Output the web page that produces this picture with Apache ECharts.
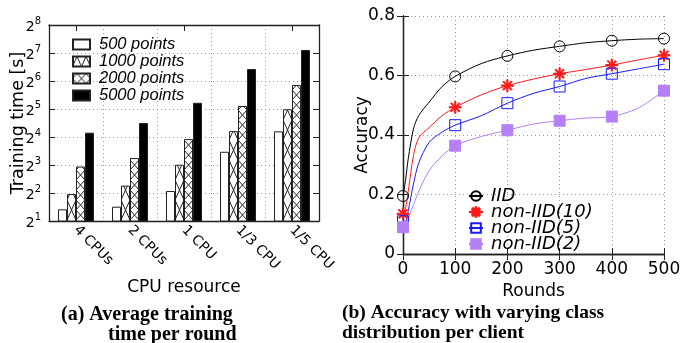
<!DOCTYPE html>
<html>
<head>
<meta charset="utf-8">
<script src="https://cdn.jsdelivr.net/npm/echarts@6/dist/echarts.min.js"></script>
<style>
html,body{margin:0;padding:0;background:#fff;}
#c{width:685px;height:343px;}
</style>
</head>
<body>
<div id="c"></div>
<script>
// ---------- data: (a) training time ----------
const categories = ['4 CPUs', '2 CPUs', '1 CPU', '1/3 CPU', '1/5 CPU'];
const barNames = ['500 points', '1000 points', '2000 points', '5000 points'];
const t500  = [2.67, 2.85, 4.2, 11.1, 18.4];
const t1000 = [3.9, 4.8, 8.05, 18.5, 31.8];
const t2000 = [7.7, 9.5, 15.2, 34.5, 58];
const t5000 = [17.8, 22.6, 37.3, 86, 138];
const timeTicks = [2, 4, 8, 16, 32, 64, 128, 256];

// ---------- data: (b) accuracy ----------
const lineNames = ['IID', 'non-IID(10)', 'non-IID(5)', 'non-IID(2)'];
const rounds = [0, 5, 10, 20, 30, 50, 75, 100, 150, 200, 250, 300, 350, 400, 450, 500];
const iidAcc = [0.195, 0.25, 0.32, 0.42, 0.465, 0.51, 0.563, 0.597, 0.64, 0.666, 0.685, 0.698, 0.71, 0.717, 0.722, 0.724];
const n10Acc = [0.135, 0.155, 0.21, 0.33, 0.39, 0.425, 0.465, 0.493, 0.535, 0.566, 0.588, 0.606, 0.62, 0.635, 0.652, 0.668];
const n5Acc  = [0.11, 0.11, 0.145, 0.235, 0.305, 0.375, 0.41, 0.433, 0.465, 0.507, 0.54, 0.563, 0.59, 0.606, 0.622, 0.638];
const n2Acc  = [0.09, 0.098, 0.12, 0.165, 0.21, 0.28, 0.33, 0.364, 0.395, 0.416, 0.437, 0.448, 0.457, 0.462, 0.49, 0.549];

// ---------- patterns ----------
function crossPattern(w, h) {
  const c = document.createElement('canvas');
  c.width = w; c.height = h;
  const g = c.getContext('2d');
  g.fillStyle = '#fff'; g.fillRect(0, 0, w, h);
  g.strokeStyle = '#222'; g.lineWidth = 1;
  for (let k = -1; k <= 1; k++) {
    g.beginPath(); g.moveTo(k * w, 0); g.lineTo(k * w + w, h); g.stroke();
    g.beginPath(); g.moveTo(k * w + w, 0); g.lineTo(k * w, h); g.stroke();
  }
  return c;
}
const pat1000 = {image: crossPattern(9, 20), repeat: 'repeat', x: 4, y: 0};
const pat2000 = {image: crossPattern(9, 10), repeat: 'repeat', x: 4, y: 0};
const barFills = ['#fff', pat1000, pat2000, '#000'];
const barValues = [t500, t1000, t2000, t5000];

const FONT = 'DejaVu Sans';
const asterisk = 'path://M-10,-1L10,-1L10,1L-10,1Z M-1,-10L1,-10L1,10L-1,10Z M-7.78,-6.36L6.36,7.78L7.78,6.36L-6.36,-7.78Z M-7.78,6.36L6.36,-7.78L7.78,-6.36L-6.36,7.78Z';

function mkLine(name, acc, color, symbol, fill, size) {
  return {
    name: name, type: 'line', xAxisIndex: 2, yAxisIndex: 2,
    smooth: 0.3, showAllSymbol: true,
    symbol: symbol, symbolSize: size,
    lineStyle: {color: color, width: 1},
    itemStyle: {color: fill, borderColor: color, borderWidth: 1},
    data: rounds.map((r, i) => (r % 100 === 0) ? {value: [r, acc[i]]} : {value: [r, acc[i]], symbol: 'none'}),
    z: 3
  };
}

const gridLine = {show: true, lineStyle: {color: '#999', type: [1, 3], width: 1}};
const axLine = {show: true, lineStyle: {color: '#222', width: 1.3}};

const option = {
  animation: false,
  backgroundColor: '#fff',
  grid: [
    {left: 49, top: 25, width: 270, height: 196},
    {left: 403, top: 16, width: 261, height: 238}
  ],
  legend: [
    {
      data: barNames, orient: 'vertical', left: 67, top: 31,
      itemWidth: 17, itemHeight: 10, itemGap: 0, icon: 'rect',
      textStyle: {fontFamily: 'Liberation Sans', fontStyle: 'italic', fontSize: 16.5, color: '#000', lineHeight: 17, padding: [0, 0, 0, 4]}
    },
    {
      data: lineNames, orient: 'vertical', left: 463, top: 182,
      itemWidth: 14, itemHeight: 12, itemGap: -2,
      textStyle: {fontFamily: FONT, fontStyle: 'italic', fontSize: 18, color: '#000', lineHeight: 16, padding: [0, 0, 0, 3]}
    }
  ],
  xAxis: [
    {
      gridIndex: 0, type: 'category', data: categories, position: 'bottom',
      axisLine: axLine, axisTick: {show: false},
      axisLabel: {rotate: -45, fontFamily: FONT, fontSize: 14, color: '#000', margin: 7},
      splitLine: gridLine,
      name: 'CPU resource', nameLocation: 'middle', nameGap: 56,
      nameTextStyle: {fontFamily: FONT, fontSize: 17, color: '#000'}
    },
    {
      gridIndex: 0, type: 'category', data: categories, position: 'top',
      axisLine: axLine, axisTick: {show: true, inside: true, length: 6, alignWithLabel: true, lineStyle: {color: '#222'}},
      axisLabel: {show: false}, splitLine: {show: false}
    },
    {
      gridIndex: 1, type: 'value', min: 0, max: 500, interval: 100, position: 'bottom',
      axisLine: axLine, axisTick: {show: true, inside: true, length: 6, lineStyle: {color: '#222'}},
      axisLabel: {fontFamily: FONT, fontSize: 17, color: '#000', margin: 7},
      splitLine: gridLine,
      name: 'Rounds', nameLocation: 'middle', nameGap: 26,
      nameTextStyle: {fontFamily: FONT, fontSize: 17, color: '#000'}
    },
    {
      gridIndex: 1, type: 'value', min: 0, max: 500, interval: 100, position: 'top',
      axisLine: axLine, axisTick: {show: true, inside: true, length: 6, lineStyle: {color: '#222'}},
      axisLabel: {show: false}, splitLine: {show: false}
    }
  ],
  yAxis: [
    {
      gridIndex: 0, type: 'log', logBase: 2, min: timeTicks[0], max: timeTicks[timeTicks.length - 1],
      splitNumber: 7, position: 'left',
      axisLine: axLine, axisTick: {show: true, inside: true, length: 6, lineStyle: {color: '#222'}},
      axisLabel: {
        margin: 8,
        formatter: v => '{b|2}{s|' + Math.round(Math.log2(v)) + '}',
        rich: {
          b: {fontFamily: FONT, fontSize: 14, color: '#000', lineHeight: 18, verticalAlign: 'bottom'},
          s: {fontFamily: FONT, fontSize: 10, color: '#000', lineHeight: 18, verticalAlign: 'top'}
        }
      },
      splitLine: gridLine,
      name: 'Training time [s]', nameLocation: 'middle', nameGap: 22, nameMoveOverlap: false,
      nameTextStyle: {fontFamily: FONT, fontSize: 17.5, color: '#000'}
    },
    {
      gridIndex: 0, type: 'log', logBase: 2, min: timeTicks[0], max: timeTicks[timeTicks.length - 1],
      splitNumber: 7, position: 'right',
      axisLine: axLine, axisTick: {show: true, inside: true, length: 6, lineStyle: {color: '#222'}},
      axisLabel: {show: false}, splitLine: {show: false}
    },
    {
      gridIndex: 1, type: 'value', min: 0, max: 0.8, interval: 0.2, position: 'left',
      axisLine: axLine, axisTick: {show: true, inside: true, length: 6, lineStyle: {color: '#222'}},
      axisLabel: {fontFamily: FONT, fontSize: 17, color: '#000', margin: 8, formatter: v => v === 0 ? '0' : v.toFixed(1)},
      splitLine: gridLine,
      name: 'Accuracy', nameLocation: 'middle', nameGap: 32, nameMoveOverlap: false,
      nameTextStyle: {fontFamily: FONT, fontSize: 17, color: '#000'}
    },
    {
      gridIndex: 1, type: 'value', min: 0, max: 0.8, interval: 0.2, position: 'right',
      axisLine: axLine, axisTick: {show: true, inside: true, length: 6, lineStyle: {color: '#222'}},
      axisLabel: {show: false}, splitLine: {show: false}
    }
  ],
  series: barNames.map((n, i) => ({
    name: n, type: 'bar', xAxisIndex: 0, yAxisIndex: 0,
    barWidth: 9, barGap: '0%', clip: true,
    itemStyle: {color: barFills[i], borderColor: '#222', borderWidth: 1},
    data: barValues[i]
  })).concat([
    mkLine('IID', iidAcc, '#000', 'circle', 'rgba(0,0,0,0)', 11),
    mkLine('non-IID(10)', n10Acc, '#ff1a1a', asterisk, '#ff1a1a', 12),
    mkLine('non-IID(5)', n5Acc, '#1a1aff', 'rect', 'rgba(0,0,0,0)', 11),
    mkLine('non-IID(2)', n2Acc, '#b580f5', 'rect', '#b580f5', 11)
  ]),
  graphic: [
    {type: 'text', left: 61, top: 305, style: {text: '(a) Average training', fontFamily: 'Liberation Serif', fontWeight: 'bold', fontSize: 20, fill: '#000'}},
    {type: 'text', left: 108, top: 325, style: {text: 'time per round', fontFamily: 'Liberation Serif', fontWeight: 'bold', fontSize: 20, fill: '#000'}},
    {type: 'text', left: 342, top: 303, style: {text: '(b) Accuracy with varying class', fontFamily: 'Liberation Serif', fontWeight: 'bold', fontSize: 19.5, fill: '#000'}},
    {type: 'text', left: 342, top: 323, style: {text: 'distribution per client', fontFamily: 'Liberation Serif', fontWeight: 'bold', fontSize: 19.5, fill: '#000'}}
  ]
};

const chart = echarts.init(document.getElementById('c'), null, {renderer: 'canvas'});
chart.setOption(option);
</script>
</body>
</html>
